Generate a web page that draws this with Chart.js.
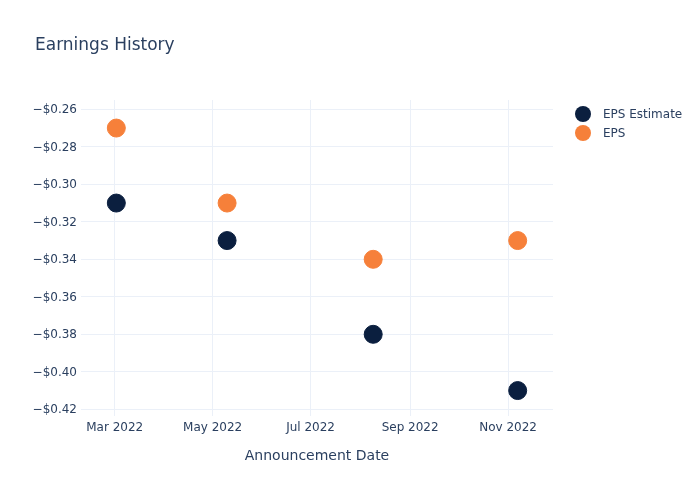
<!DOCTYPE html>
<html>
<head>
<meta charset="utf-8">
<script src="https://cdn.jsdelivr.net/npm/chart.js@4/dist/chart.umd.min.js"></script>
<style>
  html, body { margin: 0; padding: 0; background: #fff; }
  #wrap { width: 700px; height: 500px; }
</style>
</head>
<body>
<div id="wrap"><canvas id="eps"></canvas></div>
<script>
const announceDates = ["2022-03-02", "2022-05-10", "2022-08-09", "2022-11-07"];
const epsEstimate = [-0.31, -0.33, -0.38, -0.41];
const epsActual = [-0.27, -0.31, -0.34, -0.33];
const xTickDates = ["2022-03-01", "2022-05-01", "2022-07-01", "2022-09-01", "2022-11-01"];
const xTickLabels = ["Mar 2022", "May 2022", "Jul 2022", "Sep 2022", "Nov 2022"];
const yTicks = [-0.26, -0.28, -0.30, -0.32, -0.34, -0.36, -0.38, -0.40, -0.42];

const toDay = (s) => Date.parse(s + "T00:00:00Z") / 86400000;
const textColor = "#2a3f5f";
const gridColor = "#ebf0f8";
const FONT = "'DejaVu Sans', sans-serif";

const money = (v) => (v < 0 ? "\u2212" : "") + "$" + Math.abs(v).toFixed(2);

// title + legend drawn by hand, plotly style
const extras = {
  id: "extras",
  afterDraw: (chart) => {
    const ctx = chart.ctx;
    ctx.save();
    ctx.fillStyle = textColor;
    ctx.font = "17px " + FONT;
    ctx.textBaseline = "alphabetic";
    ctx.textAlign = "left";
    ctx.fillText("Earnings History", 35, 50);
    ctx.font = "12px " + FONT;
    ctx.textBaseline = "middle";
    chart.data.datasets.forEach((ds, i) => {
      const y = 114 + i * 19;
      ctx.beginPath();
      ctx.arc(583, y, 8, 0, Math.PI * 2);
      ctx.fillStyle = ds.backgroundColor;
      ctx.fill();
      ctx.fillStyle = textColor;
      ctx.fillText(ds.label, 603, y + 1);
    });
    ctx.restore();
  },
};

const data = {
  datasets: [
    {
      label: "EPS Estimate",
      data: announceDates.map((d, i) => ({ x: toDay(d), y: epsEstimate[i] })),
      backgroundColor: "#0b1f3f",
      borderColor: "#0b1f3f",
    },
    {
      label: "EPS",
      data: announceDates.map((d, i) => ({ x: toDay(d), y: epsActual[i] })),
      backgroundColor: "#f6803a",
      borderColor: "#f6803a",
    },
  ],
};

const config = {
  type: "scatter",
  data: data,
  plugins: [extras],
  options: {
    responsive: false,
    animation: false,
    layout: { padding: { top: 100, right: 147, bottom: 0, left: 0 } },
    elements: { point: { radius: 9, hoverRadius: 9, borderWidth: 1 } },
    scales: {
      x: {
        type: "linear",
        min: toDay("2022-02-08"),
        max: toDay("2022-11-29"),
        afterBuildTicks: (scale) => {
          scale.ticks = xTickDates.map((d) => ({ value: toDay(d) }));
        },
        afterFit: (scale) => { scale.height = 84; },
        grid: { color: gridColor, drawTicks: false },
        border: { display: false },
        ticks: {
          padding: 5,
          color: textColor,
          font: { family: FONT, size: 12 },
          maxRotation: 0,
          callback: (v) => xTickLabels[xTickDates.findIndex((d) => toDay(d) === v)],
        },
        title: {
          display: true,
          text: "Announcement Date",
          color: textColor,
          font: { family: FONT, size: 14 },
          padding: { top: 0, bottom: 35 },
        },
      },
      y: {
        min: -0.42357,
        max: -0.25504,
        afterBuildTicks: (scale) => {
          scale.ticks = yTicks.map((v) => ({ value: v }));
        },
        afterFit: (scale) => { scale.width = 81; },
        grid: { color: gridColor, drawTicks: false },
        border: { display: false },
        ticks: {
          padding: 4,
          labelOffset: 1,
          color: textColor,
          font: { family: FONT, size: 12 },
          callback: (v) => money(v),
        },
      },
    },
    plugins: {
      legend: { display: false },
      tooltip: { enabled: false },
    },
  },
};

const canvas = document.getElementById("eps");
canvas.width = 700;
canvas.height = 500;
new Chart(canvas, config);
</script>
</body>
</html>
